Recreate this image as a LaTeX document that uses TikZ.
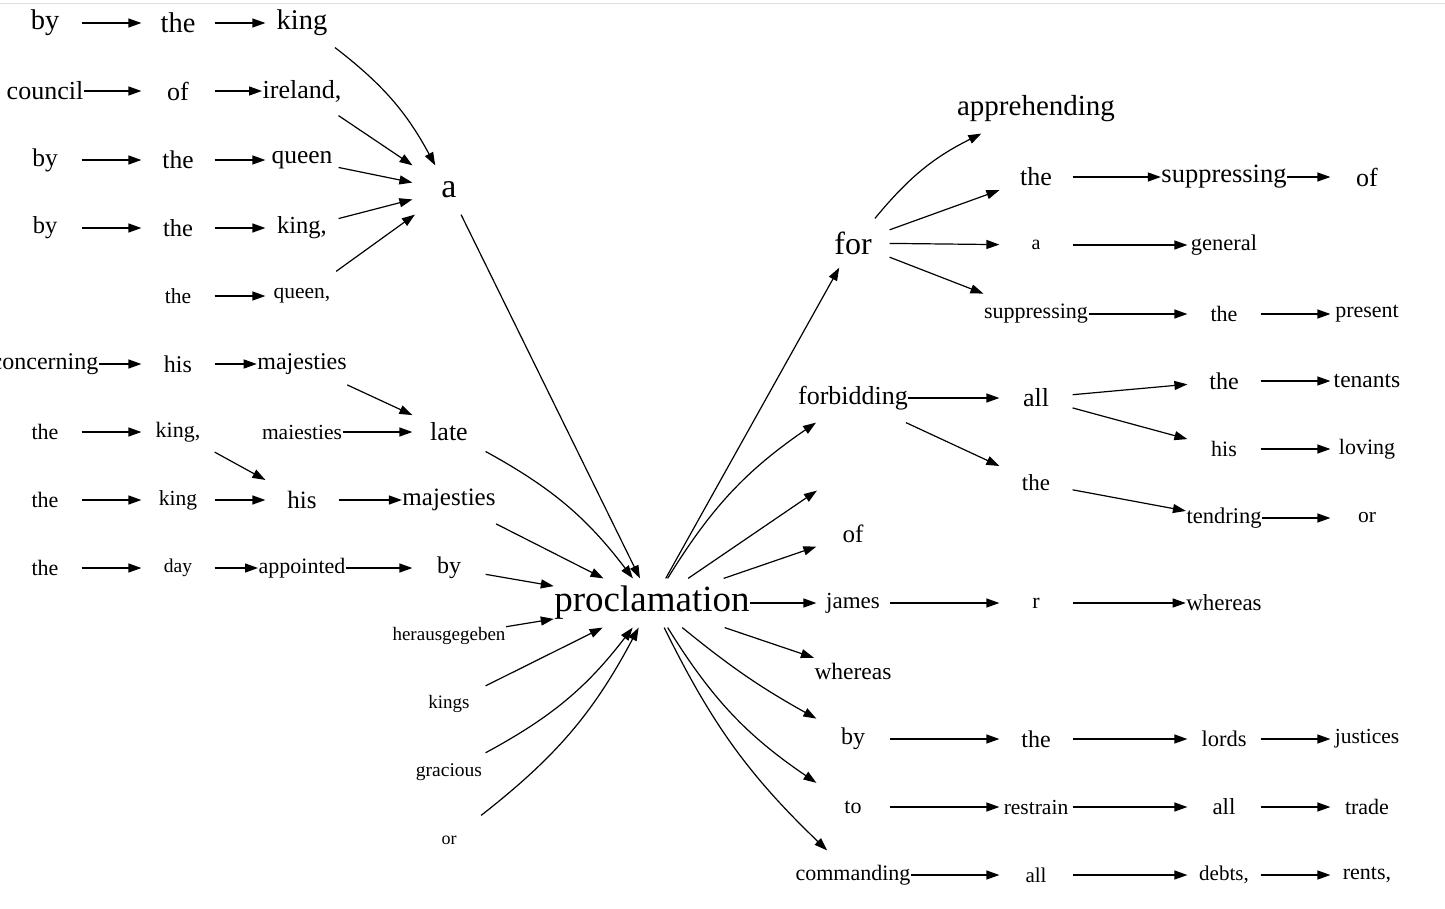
\documentclass[tikz,border=0pt]{standalone}
\usepackage{fontspec}
\setmainfont{Liberation Serif}
\newfontfamily\wordfont{Liberation Serif}
\usetikzlibrary{arrows.meta}
\tikzset{>={Triangle[length=13pt,width=9pt]}}
\tikzset{w/.style={font=\wordfont\fontsize{#1}{#1}\selectfont, minimum width=72pt, minimum height=48pt, inner sep=0pt},
  w/.default=22}

\begin{document}
\begin{tikzpicture}[x=1pt,y=-1pt,line width=1.2pt]
\useasboundingbox (0,0) rectangle (1445,908);
\draw[gray!25,line width=1pt] (0,3) -- (1445,3);
% left side
\node[w=28.5] (by1) at (45,23) {by};
\node[w=28.5] (the1) at (178,23) {the};
\node[w=28.5] (king1) at (302,23) {king};
\node[w=26] (council) at (45,91) {council};
\node[w=26] (of2) at (178,91) {of};
\node[w=26] (ireland) at (302,91) {ireland,};
\node[w=25.5] (by3) at (45,160) {by};
\node[w=25.5] (the3) at (178,160) {the};
\node[w=25.5] (queen3) at (302,160) {queen};
\node[w=24.5] (by4) at (45,228) {by};
\node[w=24.5] (the4) at (178,228) {the};
\node[w=24.5] (king4) at (302,228) {king,};
\node[w=21.5] (the5) at (178,296) {the};
\node[w=21.5] (queen5) at (302,296) {queen,};
\node[w=34] (a) at (449,190) {a};
\node[w=24] (concerning) at (45,364) {concerning};
\node[w=24] (his6) at (178,364) {his};
\node[w=24] (majesties6) at (302,364) {majesties};
\node[w=22] (the7) at (45,432) {the};
\node[w=22] (king7) at (178,432) {king,};
\node[w=21.5] (maiesties) at (302,432) {maiesties};
\node[w=26] (late) at (449,432) {late};
\node[w=22] (the8) at (45,500) {the};
\node[w=21.5] (king8) at (178,500) {king};
\node[w=25] (his8) at (302,500) {his};
\node[w=25] (majesties8) at (449,500) {majesties};
\node[w=22] (the9) at (45,568) {the};
\node[w=19.5] (day) at (178,568) {day};
\node[w=22] (appointed) at (302,568) {appointed};
\node[w=24] (by9) at (449,568) {by};
\node[w=19] (herausgegeben) at (449,636) {herausgegeben};
\node[w=19] (kings) at (449,704) {kings};
\node[w=19.5] (gracious) at (449,772) {gracious};
\node[w=18] (or) at (449,840) {or};
\node[w=37] (proclamation) at (652,603) {proclamation};
% right side
\node[w=32] (for) at (853,243) {for};
\node[w=29] (apprehending) at (1036,109) {apprehending};
\node[w=26] (theR1) at (1036,177) {the};
\node[w=26.5] (suppressing1) at (1224,177) {suppressing};
\node[w=26] (ofR1) at (1367,177) {of};
\node[w=20] (aR) at (1036,245) {a};
\node[w=22.5] (general) at (1224,245) {general};
\node[w=22] (suppressing2) at (1036,314) {suppressing};
\node[w=22] (theR3) at (1224,314) {the};
\node[w=22] (present) at (1367,314) {present};
\node[w=26] (forbidding) at (853,398) {forbidding};
\node[w=26] (all1) at (1036,398) {all};
\node[w=24] (theR4) at (1224,381) {the};
\node[w=23.5] (tenants) at (1367,381) {tenants};
\node[w=22] (hisR) at (1224,449) {his};
\node[w=22] (loving) at (1367,449) {loving};
\node[w=23] (theR5) at (1036,483) {the};
\node[w=22.5] (tendring) at (1224,518) {tendring};
\node[w=21.5] (orR) at (1367,518) {or};
\node[w] (blank) at (853,466) {};
\node[w=25] (ofR) at (853,534) {of};
\node[w=23] (james) at (853,603) {james};
\node[w=22] (r) at (1036,603) {r};
\node[w=23] (whereas1) at (1224,603) {whereas};
\node[w=23.5] (whereas2) at (853,671) {whereas};
\node[w=24] (byR) at (853,739) {by};
\node[w=24] (theR6) at (1036,739) {the};
\node[w=22.5] (lords) at (1224,739) {lords};
\node[w=21.5] (justices) at (1367,739) {justices};
\node[w=22] (to) at (853,807) {to};
\node[w=21.5] (restrain) at (1036,807) {restrain};
\node[w=23] (all2) at (1224,807) {all};
\node[w=22] (trade) at (1367,807) {trade};
\node[w=22] (commanding) at (853,875) {commanding};
\node[w=21] (all3) at (1036,875) {all};
\node[w=21] (debts) at (1224,875) {debts,};
\node[w=22] (rents) at (1367,875) {rents,};
% connectors, left
\draw[->] (by1) edge (the1) (the1) edge (king1);
\draw[->] (council) edge (of2) (of2) edge (ireland);
\draw[->] (by3) edge (the3) (the3) edge (queen3);
\draw[->] (by4) edge (the4) (the4) edge (king4);
\draw[->] (the5) edge (queen5);
\draw[->] (king1) to[bend left=12] (a);
\draw[->] (ireland) edge (a) (queen3) edge (a) (king4) edge (a) (queen5) edge (a);
\draw[->] (concerning) edge (his6) (his6) edge (majesties6) (majesties6) edge (late);
\draw[->] (the7) edge (king7) (maiesties) edge (late) (king7) edge (his8);
\draw[->] (the8) edge (king8) (king8) edge (his8) (his8) edge (majesties8);
\draw[->] (the9) edge (day) (day) edge (appointed) (appointed) edge (by9);
\draw[->] (a) edge (proclamation);
\draw[->] (late) to[bend left=12] (proclamation);
\draw[->] (majesties8) edge (proclamation) (by9) edge (proclamation)
  (herausgegeben) edge (proclamation) (kings) edge (proclamation);
\draw[->] (gracious) to[bend right=12] (proclamation);
\draw[->] (or) to[bend right=12] (proclamation);
% connectors, right
\draw[->] (proclamation) edge (for);
\draw[->] (proclamation) to[bend left=12] (forbidding);
\draw[->] (proclamation) edge (blank) (proclamation) edge (ofR)
  (proclamation) edge (james) (proclamation) edge (whereas2);
\draw[->] (proclamation) to[bend right=5] (byR);
\draw[->] (proclamation) to[bend right=12] (to);
\draw[->] (proclamation) to[bend right=10] (commanding);
\draw[->] (for) to[bend left=12] (apprehending);
\draw[->] (for) edge (theR1) (for) edge (aR) (for) edge (suppressing2);
\draw[->] (theR1) edge (suppressing1) (suppressing1) edge (ofR1);
\draw[->] (aR) edge (general);
\draw[->] (suppressing2) edge (theR3) (theR3) edge (present);
\draw[->] (forbidding) edge (all1) (forbidding) edge (theR5);
\draw[->] (all1) edge (theR4) (all1) edge (hisR);
\draw[->] (theR4) edge (tenants) (hisR) edge (loving);
\draw[->] (theR5) edge (tendring) (tendring) edge (orR);
\draw[->] (james) edge (r) (r) edge (whereas1);
\draw[->] (byR) edge (theR6) (theR6) edge (lords) (lords) edge (justices);
\draw[->] (to) edge (restrain) (restrain) edge (all2) (all2) edge (trade);
\draw[->] (commanding) edge (all3) (all3) edge (debts) (debts) edge (rents);
\end{tikzpicture}
\end{document}
